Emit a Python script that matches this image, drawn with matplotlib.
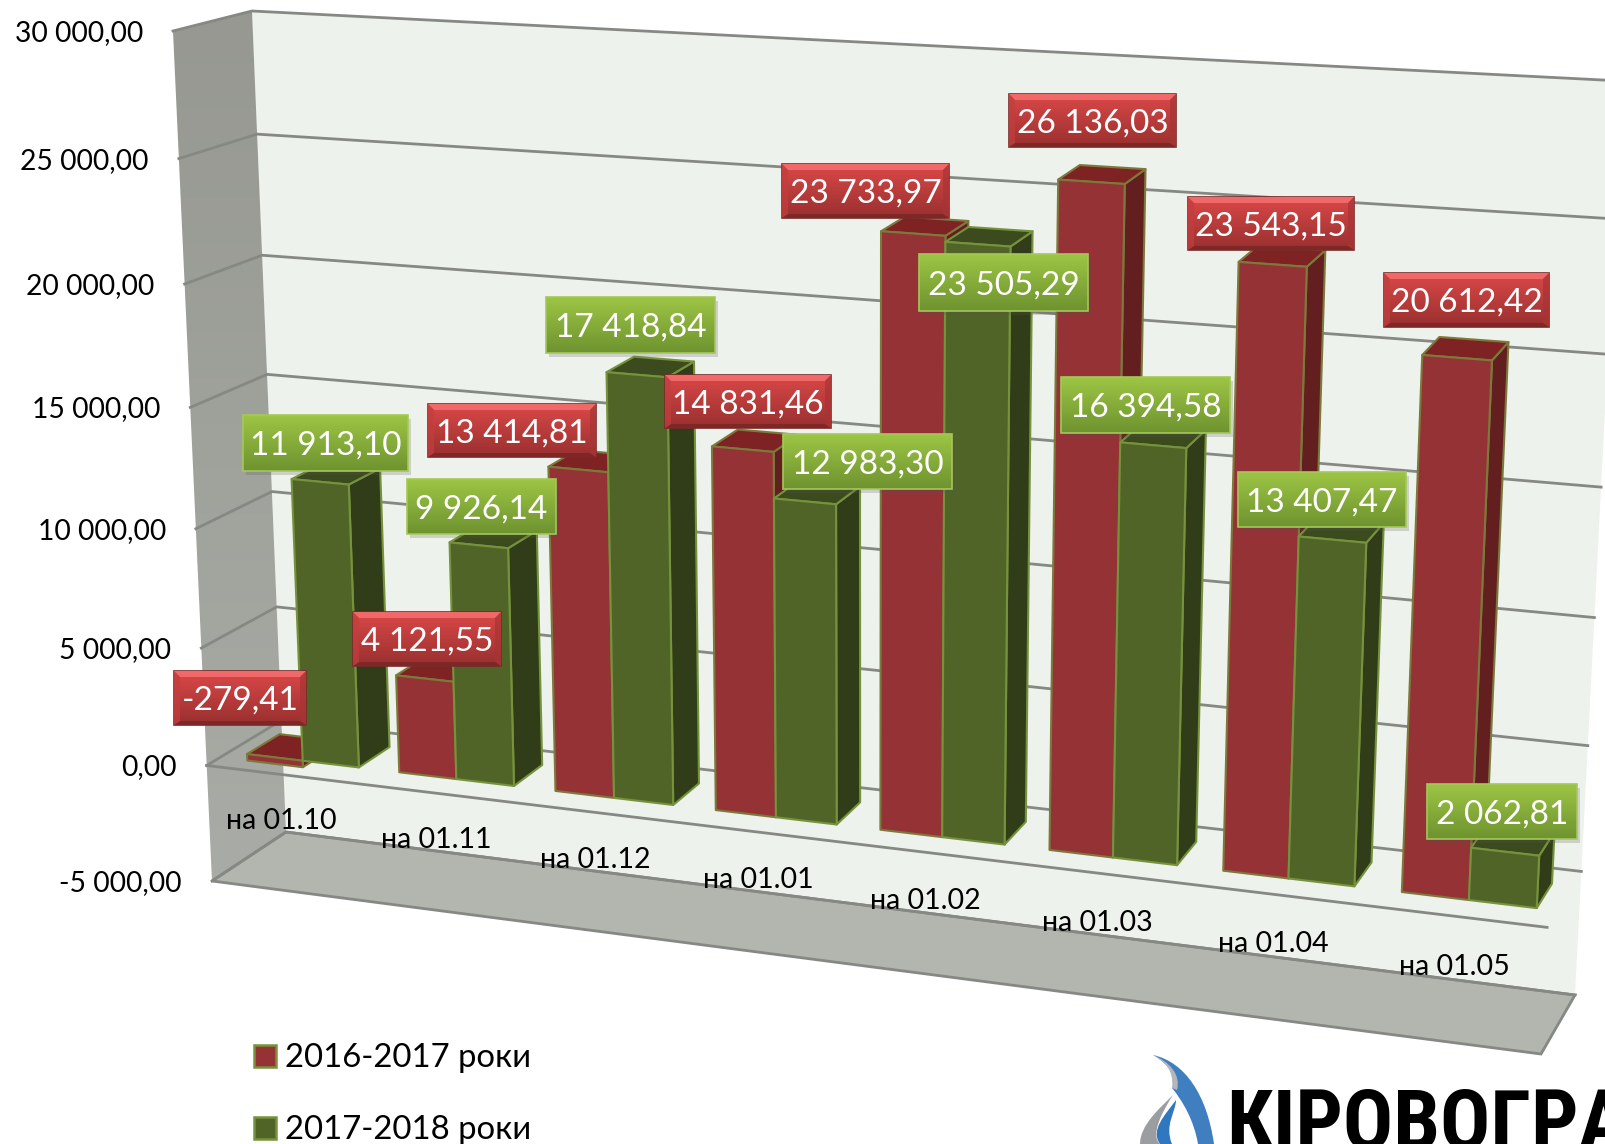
import numpy as np
import matplotlib
matplotlib.use("Agg")
import matplotlib.pyplot as plt
from matplotlib import font_manager
from matplotlib.patches import Polygon, Rectangle, PathPatch
from matplotlib.path import Path

# data
categories = ["на 01.10", "на 01.11", "на 01.12", "на 01.01",
              "на 01.02", "на 01.03", "на 01.04", "на 01.05"]
series_names = ["2016-2017 роки", "2017-2018 роки"]
values_2016 = [-279.41, 4121.55, 13414.81, 14831.46, 23733.97, 26136.03, 23543.15, 20612.42]
values_2017 = [11913.10, 9926.14, 17418.84, 12983.30, 23505.29, 16394.58, 13407.47, 2062.81]
axis_ticks = [-5000, 0, 5000, 10000, 15000, 20000, 25000, 30000]

# layout: box corners in pixels (front/back planes, order u0v0, u1v0, u1v1, u0v1)
FRONT = [(212, 881), (1541, 1054), (1586, 117), (173, 31)]
BACK = [(286, 832), (1575, 995), (1622, 81), (252, 11)]
VMIN, VMAX = -5000, 30000
N = len(categories)

# label boxes (left, right, top, bottom)
boxes_2016 = [(174, 306, 671, 725), (353, 501, 612, 666), (428, 596, 404, 457), (665, 831, 375, 428),
              (782, 949, 164, 218), (1009, 1176, 94, 147), (1188, 1354, 197, 250), (1384, 1549, 273, 327)]
boxes_2017 = [(243, 408, 415, 471), (407, 556, 479, 534), (546, 715, 297, 353), (783, 952, 434, 489),
              (919, 1088, 254, 311), (1061, 1230, 377, 433), (1238, 1406, 472, 527), (1427, 1577, 784, 839)]

plt.rcParams["font.family"] = ["Lato", "Open Sans", "DejaVu Sans"]

narrow_family = "DejaVu Sans"
for name in ["Liberation Sans Narrow", "Roboto Condensed", "Open Sans Condensed", "Noto Sans Condensed", "DejaVu Sans Condensed"]:
    try:
        font_manager.findfont(name, fallback_to_default=False)
        narrow_family = name
        break
    except ValueError:
        pass


def homography(pts):
    src = [(0, 0), (1, 0), (1, 1), (0, 1)]
    A, b = [], []
    for (s, t), (x, y) in zip(src, pts):
        A.append([s, t, 1, 0, 0, 0, -s * x, -t * x])
        A.append([0, 0, 0, s, t, 1, -s * y, -t * y])
        b += [x, y]
    h = np.linalg.solve(np.array(A, float), np.array(b, float))
    return np.append(h, 1).reshape(3, 3)


H_FRONT = homography(FRONT)
H_BACK = homography(BACK)


def project(u, val, d):
    """category position, value, depth (0 front, 1 back wall) -> pixel"""
    s = u / N
    t = (val - VMIN) / (VMAX - VMIN)
    out = []
    for H in (H_FRONT, H_BACK):
        p = H @ np.array([s, t, 1.0])
        out.append(p[:2] / p[2])
    return (1 - d) * out[0] + d * out[1]


def fmt(v):
    s = f"{abs(v):,.2f}".replace(",", " ").replace(".", ",")
    return "-" + s if v < 0 else s


def gradient(ax, pts, top, bottom, zorder):
    pts = np.array(pts, float)
    x0, x1 = pts[:, 0].min(), pts[:, 0].max()
    y0, y1 = pts[:, 1].min(), pts[:, 1].max()
    c = np.linspace(0, 1, 64)[:, None, None]
    img = (1 - c) * np.array(matplotlib.colors.to_rgb(top)) + c * np.array(matplotlib.colors.to_rgb(bottom))
    im = ax.imshow(img, extent=(x0, x1, y1, y0), aspect="auto", zorder=zorder, interpolation="bilinear")
    im.set_clip_path(Polygon(pts, transform=ax.transData))


def face(ax, pts, color, zorder, edge):
    ax.add_patch(Polygon(pts, closed=True, facecolor=color, edgecolor=edge, lw=1.5,
                         joinstyle="round", zorder=zorder))


def bar(ax, u0, u1, value, front, side, top, edge, zorder):
    lo, hi = min(0, value), max(0, value)
    d0, d1 = 0.30, 0.74
    P = project
    face(ax, [P(u1, lo, d0), P(u1, lo, d1), P(u1, hi, d1), P(u1, hi, d0)], side, zorder, edge)
    face(ax, [P(u0, hi, d0), P(u1, hi, d0), P(u1, hi, d1), P(u0, hi, d1)], top, zorder, edge)
    face(ax, [P(u0, lo, d0), P(u1, lo, d0), P(u1, hi, d0), P(u0, hi, d0)], front, zorder, edge)


def label_box(ax, box, text, kind):
    l, r, t, b = box
    z = 20
    if kind == "red":
        ax.add_patch(Rectangle((l, t), r - l, b - t, facecolor="#7a2a2a", edgecolor="#7a2a2a", lw=1.2, zorder=z))
        gradient(ax, [(l, t), (r, t), (r, b), (l, b)], "#DB4848", "#98302F", z + 1)
        # bevel
        bv = 6
        ax.add_patch(Polygon([(l, t), (r, t), (r - bv, t + bv), (l + bv, t + bv)], facecolor="#F06868", lw=0, zorder=z + 2))
        ax.add_patch(Polygon([(l, b), (r, b), (r - bv, b - 4), (l + bv, b - 4)], facecolor="#7F2626", lw=0, zorder=z + 2))
        ax.add_patch(Polygon([(l, t), (l + bv, t + bv), (l + bv, b - 4), (l, b)], facecolor="#C23E3E", lw=0, alpha=.7, zorder=z + 2))
        ax.add_patch(Polygon([(r, t), (r - bv, t + bv), (r - bv, b - 4), (r, b)], facecolor="#A83434", lw=0, alpha=.7, zorder=z + 2))
    else:
        ax.add_patch(Rectangle((l + 3, t + 4), r - l, b - t, facecolor="#555555", alpha=.22, lw=0, zorder=z))
        gradient(ax, [(l, t), (r, t), (r, b), (l, b)], "#9DC544", "#6E9330", z + 1)
        ax.add_patch(Rectangle((l, t), r - l, b - t, facecolor="none", edgecolor="#A5C758", lw=1.2, zorder=z + 2))
    ax.text((l + r) / 2, (t + b) / 2 + 3, text, color="white", fontsize=LABEL_SIZE, ha="center", va="center", zorder=z + 3)


LABEL_SIZE = 24
fig = plt.figure(figsize=(16.06, 11.44), dpi=100)
ax = fig.add_axes([0, 0, 1, 1])
ax.axis("off")

# walls and floor
GRID = "#868884"
back_wall = [project(0, VMIN, 1), project(N, VMIN, 1), project(N, VMAX, 1), project(0, VMAX, 1)]
left_wall = [project(0, VMIN, 0), project(0, VMIN, 1), project(0, VMAX, 1), project(0, VMAX, 0)]
floor = [project(0, VMIN, 0), project(N, VMIN, 0), project(N, VMIN, 1), project(0, VMIN, 1)]
ax.add_patch(Polygon(back_wall, facecolor="#EEF2EC", lw=0, zorder=1))
gradient(ax, left_wall, "#969891", "#A9ABA6", 1)
ax.add_patch(Polygon(floor, facecolor="#B3B6AF", edgecolor=GRID, lw=2, zorder=1.5))

for tick in axis_ticks:
    front_pt, corner, right_pt = project(0, tick, 0), project(0, tick, 1), project(N, tick, 1)
    ax.plot([front_pt[0], corner[0], right_pt[0]], [front_pt[1], corner[1], right_pt[1]],
            color=GRID, lw=2, zorder=2, solid_joinstyle="miter")
    ax.text(front_pt[0] - 30, front_pt[1] + 2, fmt(tick), fontsize=20.3, ha="right", va="center", color="black", zorder=3)

# category axis at zero on front plane
p0, p1 = project(0, 0, 0), project(N, 0, 0)
ax.plot([p0[0], p1[0]], [p0[1], p1[1]], color=GRID, lw=2, zorder=2.5)

# bars
for i in range(N):
    c = 0.49 + i * 1.004
    w = 0.37
    bar(ax, c - w, c, values_2016[i], "#953235", "#631E1F", "#7E2223", "#7C7A3B", 5 + i * 0.1)
    bar(ax, c, c + w, values_2017[i], "#506427", "#313D18", "#3C4B1D", "#76923C", 5.05 + i * 0.1)
    pos = project(0.48 + i * 1.004, -2000, 0)
    ax.text(pos[0], pos[1], categories[i], fontsize=20.5, ha="center", va="center", color="black", zorder=15)

for i in range(N):
    label_box(ax, boxes_2016[i], fmt(values_2016[i]), "red")
    label_box(ax, boxes_2017[i], fmt(values_2017[i]), "green")

# legend
for yc, name, col in zip((1056, 1128), series_names, ("#953235", "#506427")):
    ax.add_patch(Rectangle((254, yc - 11), 22, 22, facecolor=col, edgecolor="#76923C", lw=1.8, zorder=5))
    ax.text(285, yc + 2, name, fontsize=23.7, ha="left", va="center", color="black")

# logo
C4, MV, LN = Path.CURVE4, Path.MOVETO, Path.LINETO
crescent = Path([(1153, 1055), (1185, 1062), (1207, 1095), (1214, 1144), (1198, 1144),
                 (1194, 1120), (1182, 1100), (1172, 1088), (1178, 1080), (1170, 1064), (1153, 1055)],
                [MV, C4, C4, C4, LN, C4, C4, C4, C4, C4, C4])
ax.add_patch(PathPatch(crescent, facecolor="#3F7FBF", lw=0, zorder=6))
shine = Path([(1153, 1055), (1170, 1062), (1181, 1075), (1177, 1090), (1172, 1088), (1174, 1070), (1165, 1062), (1153, 1055)],
             [MV, C4, C4, C4, LN, C4, C4, C4])
ax.add_patch(PathPatch(shine, facecolor="#B4B6B9", lw=0, zorder=6.1))
drop = Path([(1173, 1095), (1160, 1108), (1140, 1125), (1140, 1144), (1160, 1144), (1150, 1135), (1162, 1112), (1173, 1095)],
            [MV, C4, C4, C4, LN, C4, C4, C4])
ax.add_patch(PathPatch(drop, facecolor="#9B9DA0", lw=0, zorder=6))
drop_blue = Path([(1176, 1100), (1165, 1115), (1150, 1130), (1160, 1144), (1172, 1144), (1164, 1125), (1176, 1112), (1176, 1100)],
                 [MV, C4, C4, C4, LN, C4, C4, C4])
ax.add_patch(PathPatch(drop_blue, facecolor="#2F78C0", lw=0, zorder=6))
ax.text(1226, 1087, "КІРОВОГРАД", family=[narrow_family, "DejaVu Sans"], fontweight="bold",
        fontsize=60, ha="left", va="top", color="black", zorder=6, clip_on=True)

ax.set_xlim(0, 1606)
ax.set_ylim(1144, 0)
fig.savefig("out.png", dpi=100)
